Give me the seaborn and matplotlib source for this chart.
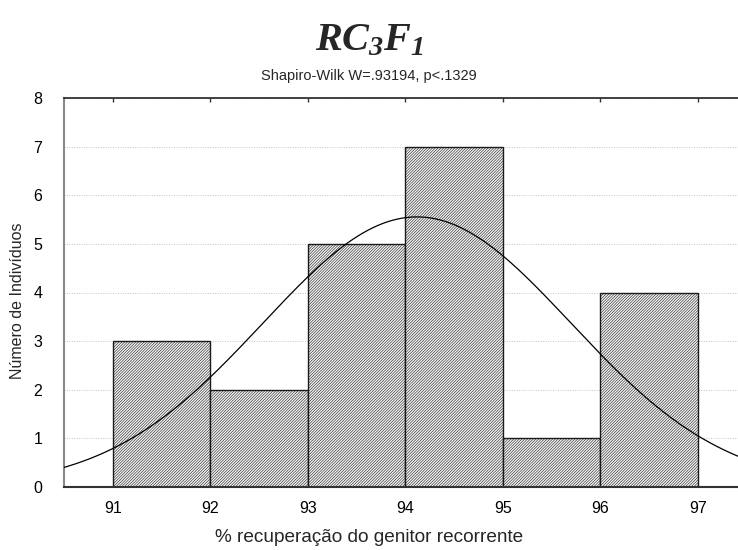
import numpy as np
import pandas as pd
import matplotlib
matplotlib.use("Agg")
import matplotlib.pyplot as plt
import seaborn as sns

# ---- data ----
bin_edges = [91, 92, 93, 94, 95, 96, 97]
bin_centers = [91.5, 92.5, 93.5, 94.5, 95.5, 96.5]
counts = [3, 2, 5, 7, 1, 4]
x_ticks = [91, 92, 93, 94, 95, 96, 97]
y_ticks = [0, 1, 2, 3, 4, 5, 6, 7, 8]
# fitted normal curve parameters (expected counts per unit bin)
curve_mean = 94.12
curve_sd = 1.58
n_total = 22

title_txt = r"$RC_3F_1$"
subtitle_txt = "Shapiro-Wilk W=.93194, p<.1329"
xlabel_txt = "% recuperação do genitor recorrente"
ylabel_txt = "Número de Indivíduos"

sns.set_style("white")
plt.rcParams["font.family"] = ["Liberation Sans", "DejaVu Sans"]
plt.rcParams["mathtext.fontset"] = "custom"
plt.rcParams["mathtext.it"] = "Liberation Serif:italic:bold"
plt.rcParams["mathtext.rm"] = "Liberation Serif:italic:bold"
plt.rcParams["mathtext.default"] = "it"
plt.rcParams["hatch.linewidth"] = 0.4

fig = plt.figure(figsize=(7.38, 5.50), dpi=100)
ax = fig.add_axes([64 / 738, 1 - 487 / 550, 7 * 97.5 / 738, (487 - 98) / 550])

df = pd.DataFrame({"x": bin_centers, "w": counts})
sns.histplot(data=df, x="x", weights="w", bins=bin_edges, ax=ax,
             stat="count", element="bars", fill=True,
             color="white", edgecolor="black", linewidth=1.0, alpha=1)
for p in ax.patches:
    p.set_facecolor("#f4f4f4")
    p.set_edgecolor("#1a1a1a")
    p.set_hatch("/" * 12)
    p.set_zorder(2)

xs = np.linspace(90.3, 97.7, 300)
ys = n_total * 1.0 / (curve_sd * np.sqrt(2 * np.pi)) * np.exp(-0.5 * ((xs - curve_mean) / curve_sd) ** 2)
sns.lineplot(x=xs, y=ys, ax=ax, color="black", linewidth=0.9, zorder=3)

ax.set_xlim(90.5, 97.5)
ax.set_ylim(0, 8)
ax.set_xticks(x_ticks)
ax.set_yticks(y_ticks)
ax.set_xticklabels([str(v) for v in x_ticks], fontsize=11.5, color="black")
ax.set_yticklabels([str(v) for v in y_ticks], fontsize=11.5, color="black")
ax.yaxis.grid(True, linestyle=(0, (1, 1.5)), color="#c4c4c4", linewidth=0.7, zorder=0)
ax.set_axisbelow(True)
ax.tick_params(axis="x", which="both", bottom=False, top=True, direction="in",
               length=3, width=1, color="#333333", labelbottom=True, pad=10)
ax.tick_params(axis="y", left=False, pad=12)
ax.spines["left"].set_color("#888888")
ax.spines["left"].set_linewidth(1.5)
ax.spines["bottom"].set_color("#333333")
ax.spines["bottom"].set_linewidth(1.5)
ax.spines["top"].set_color("#222222")
ax.spines["top"].set_linewidth(1.2)
ax.spines["right"].set_visible(False)
ax.set_xlabel("")
ax.set_ylabel("")

fig.text(0.5, 1 - 39 / 550, title_txt, ha="center", va="center", fontsize=29)
fig.text(0.5, 1 - 76 / 550, subtitle_txt, ha="center", va="center", fontsize=10.5)
fig.text(0.5, 1 - 538 / 550, xlabel_txt, ha="center", va="center", fontsize=13.7)
fig.text(18 / 738, 1 - 301 / 550, ylabel_txt, ha="center", va="center",
         rotation=90, fontsize=11.5)

fig.savefig("out.png", dpi=100)
